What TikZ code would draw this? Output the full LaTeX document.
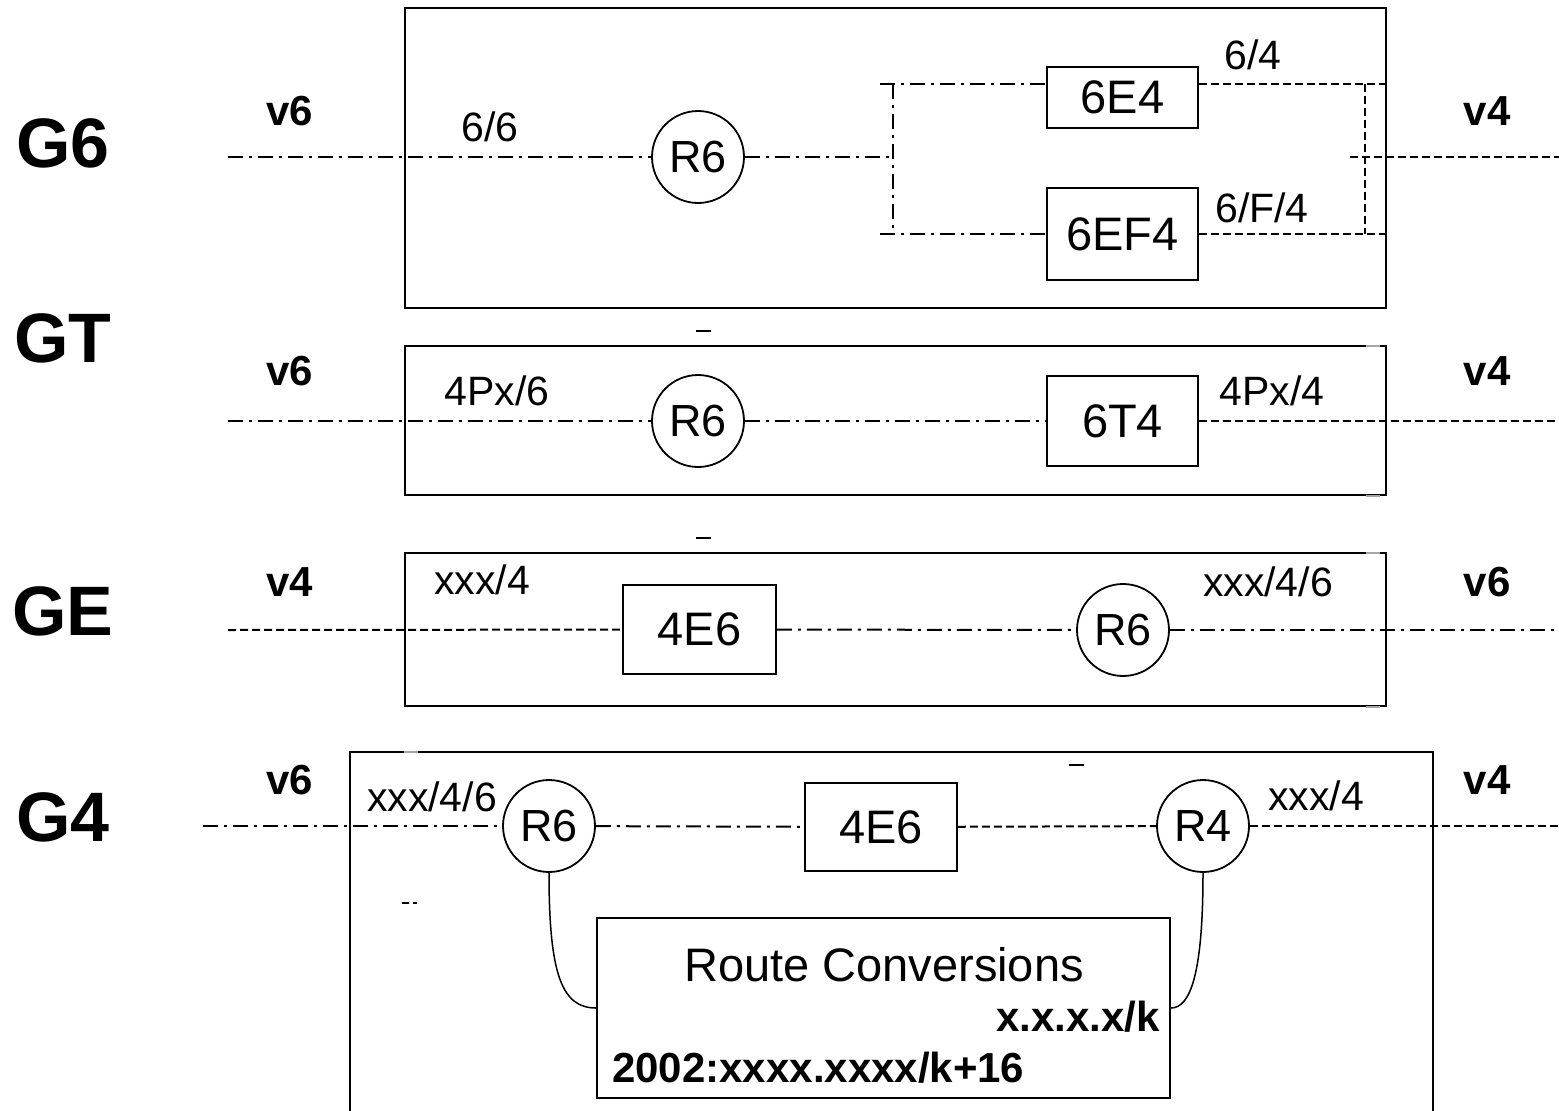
\documentclass[tikz,border=0pt]{standalone}
\usepackage{fontspec}
\setmainfont{Liberation Sans}
\begin{document}
\begin{tikzpicture}[x=1pt,y=-1pt,
  frame/.style={draw=black,line width=2pt},
  rbox/.style={draw=black,line width=1.8pt,inner sep=0pt,font=\fontsize{47}{54}\selectfont},
  router/.style={draw=black,circle,line width=1.8pt,minimum size=92pt,inner sep=0pt,font=\fontsize{45}{52}\selectfont},
  dd/.style={line width=2pt,dash pattern=on 15pt off 6pt on 3pt off 6pt},
  ds/.style={line width=2pt,dash pattern=on 8pt off 4pt},
  glabel/.style={font=\fontsize{70}{80}\selectfont\bfseries,inner sep=0pt},
  vlabel/.style={font=\fontsize{42}{48}\selectfont\bfseries,inner sep=0pt},
  slabel/.style={font=\fontsize{41}{47}\selectfont,inner sep=0pt},
  blabel/.style={font=\fontsize{42}{48}\selectfont\bfseries,inner sep=0pt},
  curve/.style={line width=1.5pt},
  stray/.style={line width=1.5pt},
  faint/.style={line width=1.5pt,draw=black!35}
]
\useasboundingbox (0,0) rectangle (1559,1111);
\fill[white] (0,0) rectangle (1559,1111);

% ---- row labels
\node[glabel] (lG6) at (63,143) {G6};
\node[glabel] (lGT) at (63,338) {GT};
\node[glabel] (lGE) at (63,611) {GE};
\node[glabel] (lG4) at (63,817) {G4};

% ================= G6 =================
\draw[frame] (405,8) rectangle (1386,308);
\node[vlabel] (g6v6) at (290,111) {v6};
\node[vlabel] (g6v4) at (1487,111) {v4};
\node[slabel] (g6l1) at (490,127) {6/6};
\node[slabel] (g6l2) at (1253,55) {6/4};
\node[slabel] (g6l3) at (1262,208) {6/F/4};
\node[router] (r6a) at (698,157) {R6};
\node[rbox,minimum width=151pt,minimum height=61pt] (e4) at (1122.5,97.5) {6E4};
\node[rbox,minimum width=151pt,minimum height=92pt] (ef4) at (1122.5,234) {6EF4};
\coordinate (g6in) at (228,157);
\coordinate (g6j) at (893,157);
\coordinate (bt) at (880,84);
\coordinate (bb) at (880,234);
\coordinate (vt) at (893,84);
\coordinate (vb) at (893,234);
\coordinate (rt) at (1386,84);
\coordinate (rb) at (1386,234);
\coordinate (wt) at (1365,84);
\coordinate (wb) at (1365,234);
\coordinate (g6m) at (1350,157);
\coordinate (g6out) at (1559,157);
\draw[dd] (g6in) -- (r6a);
\draw[dd] (r6a) -- (g6j);
\draw[dd] (bt) -- (bt -| e4.west);
\draw[dd] (bb) -- (bb -| ef4.west);
\draw[dd] (vt) -- (vb);
\draw[ds] (bt -| e4.east) -- (rt);
\draw[ds] (bb -| ef4.east) -- (rb);
\draw[ds] (wt) -- (wb);
\draw[ds] (g6m) -- (g6out);

% ================= GT =================
\draw[frame] (405,346) rectangle (1386,495);
\node[vlabel] (gtv6) at (290,371) {v6};
\node[vlabel] (gtv4) at (1487,371) {v4};
\node[slabel] (gtl1) at (497,391) {4Px/6};
\node[slabel] (gtl2) at (1272,391) {4Px/4};
\node[router] (r6b) at (698,421) {R6};
\node[rbox,minimum width=151pt,minimum height=90pt] (t4) at (1122.5,421) {6T4};
\coordinate (gtin) at (228,421);
\coordinate (gtout) at (1559,421);
\draw[dd] (gtin) -- (r6b);
\draw[dd] (r6b) -- (t4);
\draw[ds] (t4) -- (gtout);

% ================= GE =================
\draw[frame] (405,553) rectangle (1386,706);
\node[vlabel] (gev4) at (290,582) {v4};
\node[vlabel] (gev6) at (1487,582) {v6};
\node[slabel] (gel1) at (482,580) {xxx/4};
\node[slabel] (gel2) at (1268,582) {xxx/4/6};
\node[rbox,minimum width=153pt,minimum height=89pt] (e6a) at (699.5,629.5) {4E6};
\node[router] (r6c) at (1123,630) {R6};
\coordinate (gein) at (228,630);
\coordinate (geout) at (1559,630);
\draw[ds] (gein) -- (e6a);
\draw[dd] (e6a) -- (r6c);
\draw[dd] (r6c) -- (geout);

% ================= G4 =================
\draw[frame] (350,1112) -- (350,752) -- (1433,752) -- (1433,1112);
\node[vlabel] (g4v6) at (290,780) {v6};
\node[vlabel] (g4v4) at (1487,780) {v4};
\node[slabel] (g4l1) at (432,797) {xxx/4/6};
\node[slabel] (g4l2) at (1316,796) {xxx/4};
\node[router] (r6d) at (549,826) {R6};
\node[rbox,minimum width=152pt,minimum height=88pt] (e6b) at (881,827) {4E6};
\node[router] (r4) at (1203,826) {R4};
\node[draw=black,line width=1.8pt,minimum width=573pt,minimum height=180pt,inner sep=0pt] (rc) at (883.5,1008) {};
\node[rbox,draw=none] (rct) at (884,965) {Route Conversions};
\node[blabel,anchor=east] (rcv4) at (1160,1017) {x.x.x.x/k};
\node[blabel,anchor=west] (rcv6) at (612,1068) {2002:xxxx.xxxx/k+16};
\coordinate (g4in) at (203,826);
\coordinate (g4out) at (1559,826);
\draw[dd] (g4in) -- (r6d);
\draw[dd] (r6d) -- (e6b);
\draw[ds] (e6b) -- (r4);
\draw[ds] (r4) -- (g4out);
\draw[curve] (r6d.south) .. controls (549,975) and (562,1008) .. (rc.west);
\draw[curve] (r4.south) .. controls (1203,975) and (1190,1008) .. (rc.east);

% ---- stray marks
\draw[stray] (696,331) -- (711,331);
\draw[stray] (696,538) -- (711,538);
\draw[stray] (1069,765) -- (1084,765);
\draw[stray] (402,903) -- (409,903);
\draw[stray] (413,903) -- (417,903);
\draw[faint] (1366,346) -- (1380,346);
\draw[faint] (1366,496) -- (1380,496);
\draw[faint] (1366,553) -- (1380,553);
\draw[faint] (1366,707) -- (1380,707);
\draw[faint] (404,752) -- (418,752);
\end{tikzpicture}
\end{document}
